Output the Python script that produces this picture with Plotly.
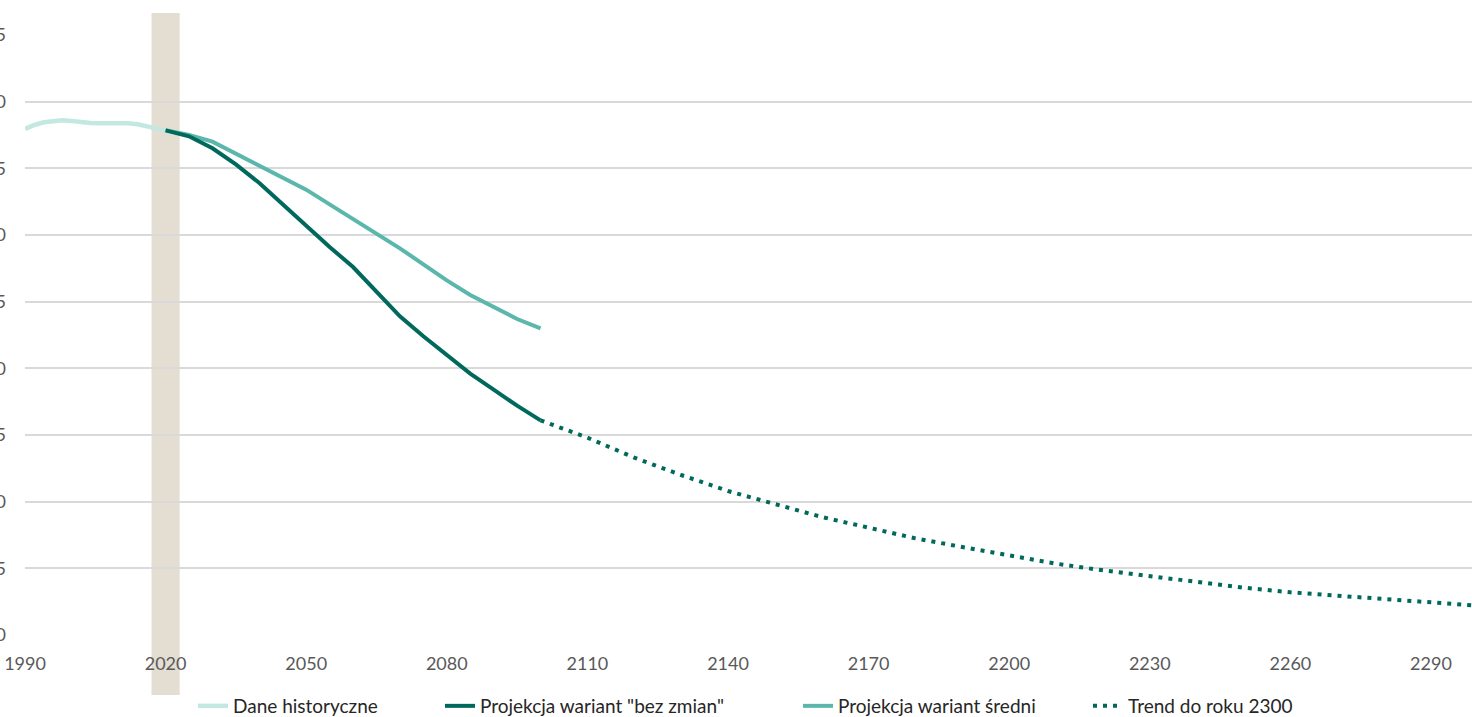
import plotly.graph_objects as go

# Historical data (millions)
hist_years = [1990, 1992, 1994, 1996, 1998, 2000, 2002, 2004, 2006, 2008, 2010, 2012, 2014, 2016, 2018, 2020]
hist_vals = [37.95, 38.25, 38.45, 38.55, 38.6, 38.55, 38.45, 38.4, 38.38, 38.4, 38.42, 38.38, 38.3, 38.15, 38.0, 37.85]

# Projection "bez zmian"
proj_years = [2020, 2025, 2030, 2035, 2040, 2045, 2050, 2055, 2060, 2065, 2070, 2075, 2080, 2085, 2090, 2095, 2100]
bez_zmian = [37.85, 37.4, 36.5, 35.3, 33.9, 32.3, 30.6, 29.1, 27.6, 25.8, 23.9, 22.4, 21.0, 19.6, 18.4, 17.2, 16.1]

# Projection "średni"
sredni = [37.85, 37.5, 37.0, 36.1, 35.2, 34.3, 33.4, 32.3, 31.2, 30.1, 29.0, 27.8, 26.6, 25.5, 24.6, 23.7, 23.0]

# Trend to 2300
trend_years = [2100, 2110, 2120, 2130, 2140, 2150, 2160, 2170, 2180, 2190, 2200, 2210, 2220, 2230, 2240,
               2250, 2260, 2270, 2280, 2290, 2300]
trend_vals = [16.1, 14.8, 13.3, 12.0, 10.8, 9.8, 8.85, 8.05, 7.25, 6.6, 6.0, 5.35, 4.85, 4.4, 3.95,
              3.55, 3.2, 2.95, 2.7, 2.45, 2.2]

names = ["Dane historyczne", 'Projekcja wariant "bez zmian"', "Projekcja wariant średni", "Trend do roku 2300"]

C_HIST = "#C3E8E1"
C_DARK = "#00695C"
C_MID = "#5BB7AB"
FONT = "Lato"

fig = go.Figure()
fig.add_trace(go.Scatter(x=hist_years, y=hist_vals, mode="lines", name=names[0],
                         line=dict(color=C_HIST, width=4.5), legend="legend"))
fig.add_trace(go.Scatter(x=proj_years, y=sredni, mode="lines", name=names[2],
                         line=dict(color=C_MID, width=4), legend="legend3"))
fig.add_trace(go.Scatter(x=proj_years, y=bez_zmian, mode="lines", name=names[1],
                         line=dict(color=C_DARK, width=4), legend="legend2"))
fig.add_trace(go.Scatter(x=trend_years, y=trend_vals, mode="lines", name=names[3],
                         line=dict(color=C_DARK, width=4, dash="4px,6px"), legend="legend4"))

W, H = 1472, 717
L, R, T, B = 25, 0, 35, 82
pw = W - L - R
ph = H - T - B

def px_to_paper_x(px):
    return (px - L) / pw

legend_y = (H - B - 706) / ph
leg_common = dict(orientation="h", yanchor="middle", y=legend_y, xanchor="left",
                  font=dict(family=FONT, size=19, color="#262626"), bgcolor="rgba(0,0,0,0)")
text_starts = [233, 480, 838, 1128]
legs = {}
for i, key in enumerate(["legend", "legend2", "legend3", "legend4"]):
    d = dict(leg_common)
    d["x"] = px_to_paper_x(text_starts[i] - 40)
    legs[key] = d

fig.add_shape(type="rect", xref="x", yref="paper", x0=2017, x1=2023,
              y0=(H - B - 695) / ph, y1=(H - B - 13) / ph,
              fillcolor="#E3DDD2", line=dict(width=0), layer="below")

fig.update_layout(
    width=W, height=H,
    margin=dict(l=L, r=R, t=T, b=B, autoexpand=False),
    plot_bgcolor="white", paper_bgcolor="white",
    font=dict(family=FONT, size=18, color="#595959"),
    showlegend=True,
    **legs,
    xaxis=dict(range=[1990, 2298.75], tickmode="array", tickvals=list(range(1990, 2300, 30)),
               showgrid=False, zeroline=False, showline=False, ticks="",
               tickfont=dict(family=FONT, size=18, color="#595959"), ticklabelstandoff=16,
               automargin=False),
    yaxis=dict(range=[0, 45], tickmode="array", tickvals=list(range(0, 50, 5)),
               showgrid=True, gridcolor="#D9D9D9", gridwidth=1.5, zeroline=False, showline=False,
               ticks="", tickfont=dict(family=FONT, size=18, color="#595959"),
               ticklabelstandoff=18, automargin=False),
)

fig.write_html("out.html", config={"displayModeBar": False},
               post_script="document.body.style.margin='0';")
